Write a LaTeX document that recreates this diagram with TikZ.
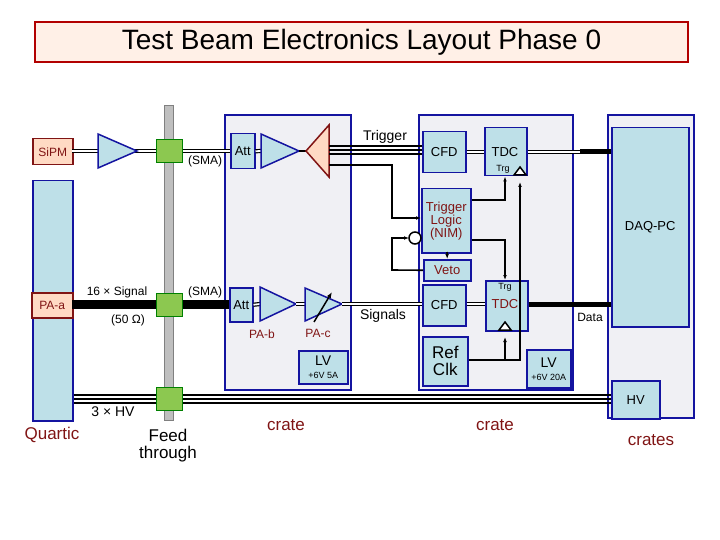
\documentclass[tikz,border=0pt]{standalone}
\usepackage{fontspec}
\setmainfont{Liberation Sans}
\usetikzlibrary{arrows.meta}
\definecolor{dred}{RGB}{128,20,20}
\definecolor{bblue}{RGB}{20,20,160}
\definecolor{lblue}{RGB}{190,224,232}
\definecolor{peach}{RGB}{255,218,196}
\definecolor{crateg}{RGB}{240,240,244}
\definecolor{fgreen}{RGB}{140,200,80}
\newcommand\fs[1]{\fontsize{#1}{#1}\selectfont}
\tikzset{
  box/.style={draw=bblue,line width=1.5pt,fill=lblue},
  pbox/.style={draw=dred,line width=1.5pt,fill=peach,text=dred,font=\fs{12}},
  crate/.style={draw=bblue,line width=1.5pt,fill=crateg},
  amp/.style={draw=bblue,line width=1.5pt,fill=lblue},
  sig/.style={double,double distance=1.8pt,line width=1.2pt},
  wire/.style={line width=1.6pt,-{Latex[length=5pt]}},
  lbl/.style={font=\fs{12}},
  rlbl/.style={font=\fs{17},text=dred},
}
\begin{document}
\begin{tikzpicture}[x=1pt,y=-1pt]
\useasboundingbox (0,0) rectangle (720,540);
% title
\node[draw=red!70!black,fill=peach!40,line width=1.5pt,minimum width=653,minimum height=40,font=\fs{28}] (title) at (361.5,42) {Test Beam Electronics Layout Phase 0};
% feedthrough bar
\fill[gray!50,draw=gray] (164,105) rectangle (173,420);
% crates
\draw[crate] (225,115) rectangle (351,390);
\draw[crate] (419,115) rectangle (573,390);
\draw[crate] (608,115) rectangle (694,418);
% HV lines
\draw[line width=1.3pt] (72,395) -- (611,395);
\draw[line width=1.3pt] (72,399) -- (611,399);
\draw[line width=1.3pt] (72,403) -- (611,403);
% left boxes
\node[box,minimum width=40,minimum height=240,anchor=north west,inner sep=0] (quartic) at (32,180) {};
\node[pbox,minimum width=40,minimum height=26,anchor=north west,inner sep=0] (sipm) at (32,138) {SiPM};
\node[pbox,minimum width=41,minimum height=25,anchor=north west,inner sep=0] (paa) at (31,292) {PA-a};
% signal lines
\draw[sig] (72,151) -- (230,151);
\draw[line width=9pt] (72,304) -- (229,304);
% green blocks
\foreach \y in {140,293,387} \draw[fill=fgreen,draw=green!50!black,line width=1pt] (156,\y) rectangle (182,\y+23);
% amplifier 1
\draw[amp] (98,134) -- (137,151) -- (98,168) -- cycle;
% crate 1 contents
\node[box,minimum width=24,minimum height=35,anchor=north west,inner sep=0,font=\fs{13}] (att1) at (230,133) {Att};
\node[box,minimum width=23,minimum height=34,anchor=north west,inner sep=0,font=\fs{13}] (att2) at (229,287) {Att};
\draw[sig] (att1.east) -- (261,151);
\draw[sig] (att2.east) -- (260,304);
\draw[amp] (261,134) -- (299,151) -- (261,168) -- cycle;
\draw[line width=1.2pt] (299,151) -- (306,151);
\draw[draw=dred,line width=1.5pt,fill=peach] (306,151) -- (329,125) -- (329,177) -- cycle;
\draw[amp] (260,287) -- (296,304) -- (260,321) -- cycle;
\draw[sig] (296,304) -- (305,304);
\draw[amp] (305,288) -- (342,304) -- (305,321) -- cycle;
\draw[line width=1.5pt,-{Latex[length=6pt]}] (314,322) -- (332,292);
\node[box,minimum width=49,minimum height=33,anchor=north west,inner sep=0,align=center,font=\fs{14}] (lv1) at (298,350) {LV\\[-1pt]{\fs{9}+6V 5A}};
% crate 2 contents
\node[box,minimum width=43,minimum height=41,anchor=north west,inner sep=0,font=\fs{13}] (cfd1) at (422,131) {CFD};
\node[box,minimum width=42,minimum height=48,anchor=north west,inner sep=0] (tdc1) at (484,127) {};
\node[font=\fs{13}] (tdc1t) at (505,152) {TDC};
\node[font=\fs{9}] (trg1) at (503,169) {Trg};
\node[box,minimum width=49,minimum height=64,anchor=north west,inner sep=0,align=center,text=dred,font=\fs{13}] (logic) at (421,188) {Trigger\\Logic\\(NIM)};
\node[box,minimum width=47,minimum height=21,anchor=north west,inner sep=0,text=dred,font=\fs{13}] (veto) at (423,259) {Veto};
\node[box,minimum width=43,minimum height=41,anchor=north west,inner sep=0,font=\fs{13}] (cfd2) at (422,284) {CFD};
\node[box,minimum width=42,minimum height=50,anchor=north west,inner sep=0] (tdc2) at (485,280) {};
\node[font=\fs{9}] (trg2) at (505,287) {Trg};
\node[font=\fs{13},text=dred] (tdc2t) at (505,304) {TDC};
\node[box,minimum width=45,minimum height=49,anchor=north west,inner sep=0,align=center,font=\fs{17}] (refclk) at (422,336) {Ref\\Clk};
\node[box,minimum width=44,minimum height=38,anchor=north west,inner sep=0,align=center,font=\fs{14}] (lv2) at (526,349) {LV\\[-1pt]{\fs{9}+6V 20A}};
% DAQ box contents
\node[box,minimum width=77,minimum height=199,anchor=north west,inner sep=0,font=\fs{13}] (daq) at (611,127) {DAQ-PC};
\node[box,minimum width=48,minimum height=38,anchor=north west,inner sep=0,font=\fs{13}] (hv) at (611,380) {HV};
% trigger lines
\draw[line width=1.1pt] (329,146) -- (cfd1.west |- 0,146);
\draw[line width=1.1pt] (329,150) -- (cfd1.west |- 0,150);
\draw[line width=1.1pt] (329,154) -- (cfd1.west |- 0,154);
\draw[sig] (cfd1.east |- 0,152) -- (tdc1.west |- 0,152);
\draw[wire] (329,165) -- (392,165) -- (392,218) -- (logic.west |- 0,218);
\draw[line width=1.5pt,fill=white] (415,238) circle (6);
\coordinate (vin) at (409,238);
\draw[wire] (veto.west) -- (392,270) -- (392,238) -- (vin);
\draw[wire] (447,252) -- (veto.north);
\draw[wire] (logic.east |- 0,200) -- (505,200) -- (tdc1.south -| 505,0);
\draw[wire] (logic.east |- 0,240) -- (505,240) -- (tdc2.north -| 505,0);
% signals
\draw[sig] (342,304) -- (cfd2.west |- 0,304);
\draw[sig] (cfd2.east |- 0,304) -- (tdc2.west |- 0,304);
% clock
\draw[wire] (refclk.east |- 0,360) -- (505,360) -- (505,337);
\draw[wire] (505,360) -- (520,360) -- (520,182);
\draw[line width=1.5pt,fill=white] (499,330) -- (505,322) -- (511,330) -- cycle;
\draw[line width=1.5pt,fill=white] (514,175) -- (520,167) -- (526,175) -- cycle;
% data lines
\draw[sig] (tdc1.east |- 0,152) -- (580,152);
\draw[line width=5pt] (580,152) -- (daq.west |- 0,152);
\draw[line width=5pt] (tdc2.east |- 0,304) -- (daq.west |- 0,304);
% labels
\node[lbl] (sma1) at (205,161) {(SMA)};
\node[lbl] (sma2) at (205,292) {(SMA)};
\node[lbl] (n16) at (117,292) {16 × Signal};
\node[lbl] (ohm) at (128,320) {(50 Ω)};
\node[lbl,text=dred] (pab) at (262,334) {PA-b};
\node[lbl,text=dred] (pac) at (318,333) {PA-c};
\node[font=\fs{14}] (hv3) at (113,412) {3 × HV};
\node[font=\fs{14}] (trig) at (385,137) {Trigger};
\node[font=\fs{14}] (sigs) at (383,316) {Signals};
\node[lbl] (data) at (590,317) {Data};
\node[rlbl] (qu) at (52,435) {Quartic};
\node[font=\fs{17},align=center] (feed) at (168,446) {Feed\\through};
\node[rlbl] (cr1) at (286,425) {crate};
\node[rlbl] (cr2) at (495,425) {crate};
\node[rlbl] (crs) at (651,440) {crates};
\end{tikzpicture}
\end{document}
